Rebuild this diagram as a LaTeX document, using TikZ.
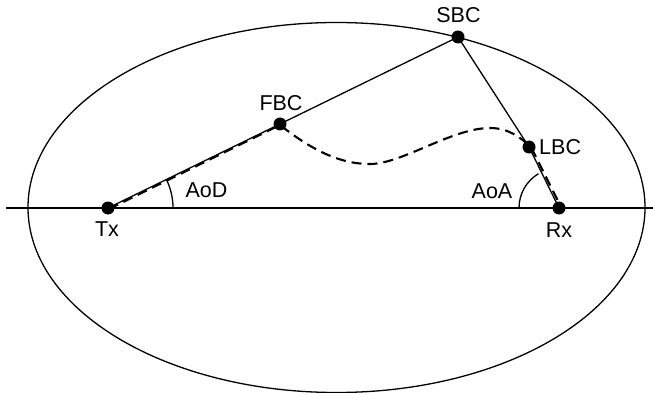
\documentclass[tikz,border=0pt]{standalone}
\usepackage{fontspec}
\setmainfont{Liberation Sans}
\begin{document}
\begin{tikzpicture}[x=1pt,y=-1pt,
  dot/.style={circle,fill=black,inner sep=0pt,minimum size=13pt},
  lbl/.style={inner sep=0pt,font=\fontsize{21.5}{22}\selectfont},
  thinline/.style={line width=1.3pt},
  pathline/.style={line width=2.1pt,dash pattern=on 10pt off 6pt}]
\useasboundingbox (0,0) rectangle (653,393);
% ellipse and axis
\draw[thinline] (336.5,207.5) ellipse [x radius=308.5, y radius=185];
\coordinate (axl) at (6,208);
\coordinate (axr) at (653,208);
\draw[thinline] (axl) -- (axr);
% points
\node[dot] (tx) at (108,208) {};
\node[dot] (rx) at (559,208) {};
\node[dot] (fbc) at (280,124) {};
\node[dot] (sbc) at (458,37) {};
\node[dot] (lbc) at (529,147) {};
% solid paths
\draw[thinline] (tx.center) -- (fbc.center) -- (sbc.center) -- (lbc.center) -- (rx.center);
% dashed path
\draw[pathline] ([shift={(1,1)}]tx.center) -- ([shift={(0,1)}]fbc.center)
  .. controls (318,155) and (345,164) .. (370,164)
  .. controls (402,164) and (452,128) .. (490,128)
  .. controls (508,128) and (520,137) .. ([shift={(2,0)}]lbc.center)
  -- ([shift={(2,-1)}]rx.center);
% angle arcs
\draw[thinline] ([shift={(65,0)}]tx.center) arc[start angle=0,end angle=-26,radius=65];
\draw[thinline] ([shift={(-40,0)}]rx.center) arc[start angle=180,end angle=239,radius=40];
% labels
\node[lbl] (ltx) at (107,229.5) {Tx};
\node[lbl] (lrx) at (559,230) {Rx};
\node[lbl] (lfbc) at (281,103) {FBC};
\node[lbl] (lsbc) at (458.5,15) {SBC};
\node[lbl,anchor=west] (llbc) at (539,147) {LBC};
\node[lbl] (laod) at (206.5,190.5) {AoD};
\node[lbl] (laoa) at (492,191.5) {AoA};
\end{tikzpicture}
\end{document}
